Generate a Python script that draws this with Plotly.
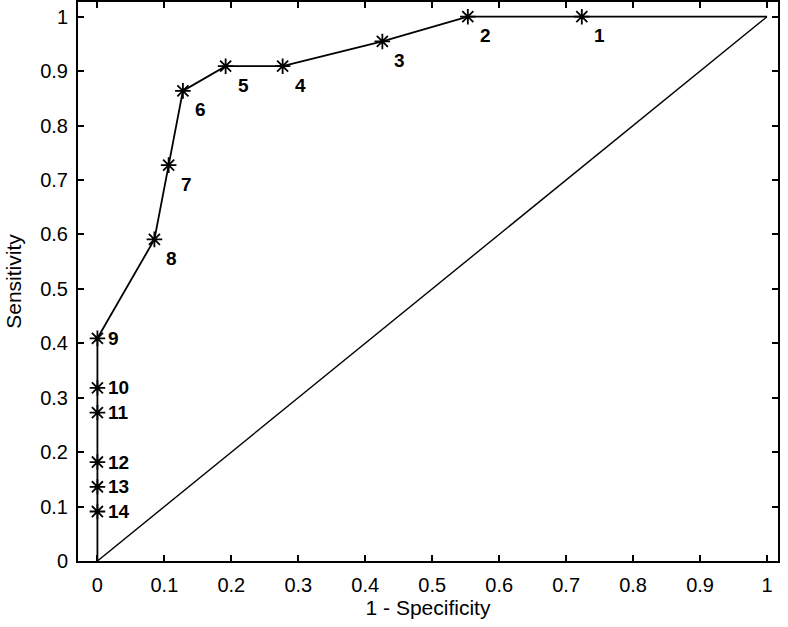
import plotly.graph_objects as go

# ROC operating points (1 - specificity, sensitivity), numbered 1..14
point_ids = ["1", "2", "3", "4", "5", "6", "7", "8", "9", "10", "11", "12", "13", "14"]
fpr = [34/47, 26/47, 20/47, 13/47, 9/47, 6/47, 5/47, 4/47, 0, 0, 0, 0, 0, 0]
tpr = [1.0, 1.0, 21/22, 20/22, 20/22, 19/22, 16/22, 13/22, 9/22, 7/22, 6/22, 4/22, 3/22, 2/22]

# curve end points and chance line
curve_x = [1.0] + fpr + [0.0]
curve_y = [1.0] + tpr + [0.0]
diag_x = [0.0, 1.0]
diag_y = [0.0, 1.0]

ticks = [0, 0.1, 0.2, 0.3, 0.4, 0.5, 0.6, 0.7, 0.8, 0.9, 1]
tick_text = ["0", "0.1", "0.2", "0.3", "0.4", "0.5", "0.6", "0.7", "0.8", "0.9", "1"]

FONT = "Liberation Sans, Arial, Helvetica"

fig = go.Figure()
fig.add_trace(go.Scatter(x=curve_x, y=curve_y, mode="lines",
                         line=dict(color="black", width=1.8)))
fig.add_trace(go.Scatter(x=diag_x, y=diag_y, mode="lines",
                         line=dict(color="black", width=1.4)))
fig.add_trace(go.Scatter(x=fpr, y=tpr, mode="markers",
                         marker=dict(symbol="asterisk-open", size=13, color="black",
                                     line=dict(color="black", width=1.8))))

# point number labels: below-right for 1-8, to the right for 9-14
for i, (px, py, lab) in enumerate(zip(fpr, tpr, point_ids)):
    if i < 8:
        xs, ys = 10, -19
    else:
        xs, ys = 9, 0
    fig.add_annotation(x=px, y=py, text="<b>" + lab + "</b>", showarrow=False,
                       xanchor="left", yanchor="middle", xshift=xs, yshift=ys,
                       font=dict(family=FONT, size=19, color="black"))

axis_common = dict(
    tickmode="array", tickvals=ticks, ticktext=tick_text,
    ticks="inside", ticklen=6, tickwidth=1.6, tickcolor="black",
    showline=True, linecolor="black", linewidth=2, mirror="ticks",
    showgrid=False, zeroline=False, automargin=False,
    tickfont=dict(family=FONT, size=20, color="black"),
)

fig.update_xaxes(range=[-0.029, 1.0164], ticklabelstandoff=5,
                 title=dict(text="1 - Specificity", standoff=4,
                            font=dict(family=FONT, size=21, color="black")),
                 **axis_common)
fig.update_yaxes(range=[0, 1.027], ticklabelstandoff=4,
                 title=dict(text="Sensitivity", standoff=13,
                            font=dict(family=FONT, size=21, color="black")),
                 **axis_common)

fig.update_layout(width=788, height=627, showlegend=False,
                  plot_bgcolor="white", paper_bgcolor="white",
                  margin=dict(l=78, r=10, t=2, b=66))

# drop the default page margin so the figure sits at the window's top-left corner
fig.write_html("out.html", config={"displayModeBar": False},
               post_script="document.body.style.margin='0';")
